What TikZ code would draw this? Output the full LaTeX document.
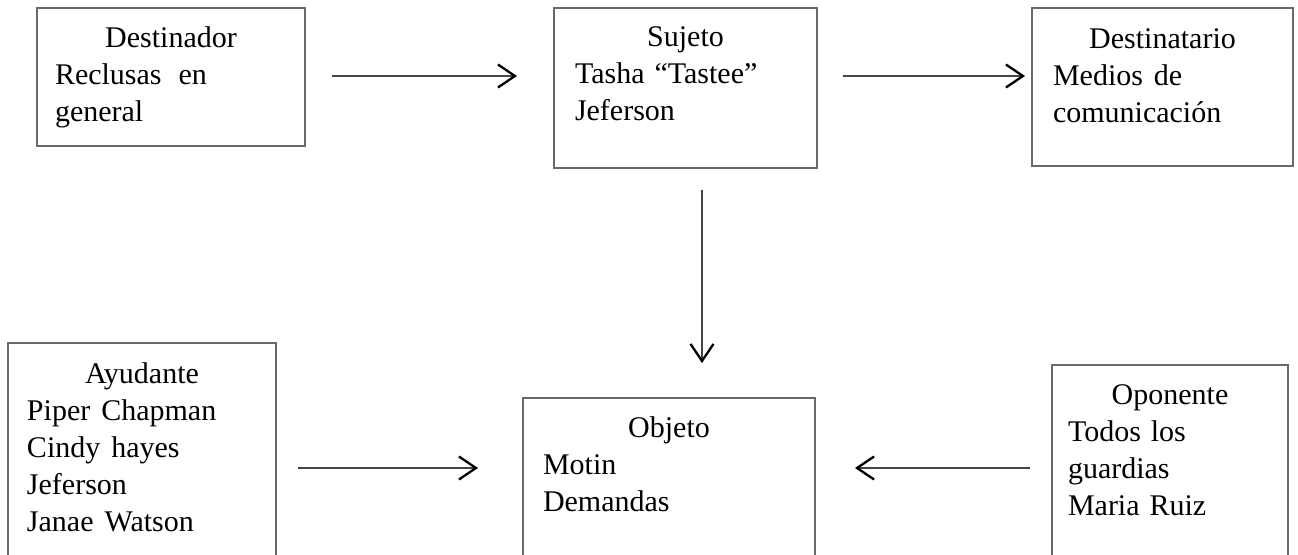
\documentclass[tikz,border=0pt]{standalone}
\usepackage{fontspec}
\setmainfont{Liberation Serif}
\usetikzlibrary{arrows.meta,calc}
\definecolor{boxgray}{RGB}{105,105,105}
\definecolor{linegray}{RGB}{70,70,70}
\tikzset{
  box/.style={draw=boxgray, line width=2pt, anchor=north west, inner sep=0pt, outer sep=0pt, fill=white},
  txt/.style={anchor=base west, inner sep=0pt, outer sep=0pt, align=left,
              font=\fontsize{30pt}{37pt}\selectfont},
  arr/.style={draw=linegray, line width=2pt,
              -{Straight Barb[length=17pt,width=23pt,line width=2.3pt,color=black]}}
}
\newcommand{\ttl}[1]{\makebox[\linewidth][c]{#1}}
\begin{document}
\begin{tikzpicture}[x=1pt,y=-1pt]
\useasboundingbox (0,0) rectangle (1298,554);
\clip (0,0) rectangle (1298,554);
% boxes
\node[box, minimum width=268pt, minimum height=138pt] (b1) at (37,8) {};
\node[box, minimum width=263pt, minimum height=160pt] (b2) at (554,8) {};
\node[box, minimum width=261pt, minimum height=158pt] (b3) at (1032,8) {};
\node[box, minimum width=268pt, minimum height=240pt] (b4) at (8,343) {};
\node[box, minimum width=292pt, minimum height=190pt] (b5) at (523,398) {};
\node[box, minimum width=236pt, minimum height=220pt] (b6) at (1052,365) {};
% texts
\node[txt, text width=232pt] (t1) at ($(b1.north west)+(18,39)$)
  {\ttl{Destinador}\\Reclusas\hspace{17pt}en\\general};
\node[txt, text width=221pt] (t2) at ($(b2.north west)+(21,38)$)
  {\ttl{Sujeto}\\Tasha “Tastee”\\Jeferson};
\node[txt, text width=219pt] (t3) at ($(b3.north west)+(21,40)$)
  {\ttl{Destinatario}\\Medios\hspace{11pt}de\\comunicación};
\node[txt, text width=230pt] (t4) at ($(b4.north west)+(19,40)$)
  {\ttl{Ayudante}\\Piper\hspace{11pt}Chapman\\Cindy\hspace{11pt}hayes\\Jeferson\\Janae\hspace{11pt}Watson};
\node[txt, text width=252pt] (t5) at ($(b5.north west)+(20,39)$)
  {\ttl{Objeto}\\Motin\\Demandas};
\node[txt, text width=204pt] (t6) at ($(b6.north west)+(16,39)$)
  {\ttl{Oponente}\\Todos los\\guardias\\Maria Ruiz};
% connectors
\draw[arr] ($(b1.north east)+(27,68)$) -- ($(b2.north west)+(-37,68)$);
\draw[arr] ($(b2.north east)+(26,68)$) -- ($(b3.north west)+(-7,68)$);
\draw[arr] ($(b2.south west)+(148,22)$) -- ($(b5.north west)+(179,-35)$);
\draw[arr] ($(b4.north east)+(22,125)$) -- ($(b5.north west)+(-45,70)$);
\draw[arr] ($(b6.north west)+(-22,103)$) -- ($(b5.north east)+(40,70)$);
\end{tikzpicture}
\end{document}
